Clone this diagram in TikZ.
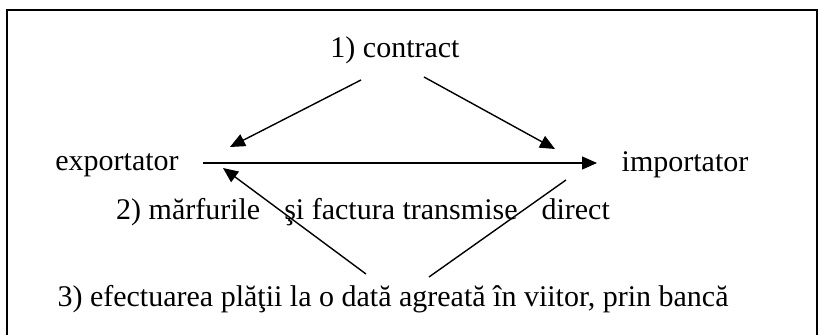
\documentclass[tikz,border=0pt]{standalone}
\usepackage{fontspec}
\setmainfont{Liberation Serif}
\usetikzlibrary{arrows.meta}
\begin{document}
\begin{tikzpicture}[x=0.5pt,y=-0.5pt,
  lbl/.style={inner sep=0pt,font=\fontsize{15}{18}\selectfont},
  conn/.style={line width=0.7pt},
  arr/.style={conn,-{Triangle[length=7.5pt,width=6.5pt]}},
  frame/.style={line width=1.1pt}]
\useasboundingbox (0,0) rectangle (826,335);
\draw[frame] (7,345) -- (7,10) -- (817,10) -- (817,345);
\node[lbl] (contract) at (395,50) {1) contract};
\node[lbl] (exp) at (117,165) {exportator};
\node[lbl] (imp) at (685,165) {importator};
\node[lbl] (goods) at (363,212) {2) mărfurile\hspace{0.8em}şi factura transmise\hspace{0.8em}direct};
\node[lbl] (pay) at (393,299) {3) efectuarea plăţii la o dată agreată în viitor, prin bancă};
\coordinate (cL) at (361,80);
\coordinate (cR) at (424,77);
\coordinate (eT) at (230,147);
\coordinate (iT) at (555,149);
\coordinate (eR) at (203,163);
\coordinate (iL) at (597,163);
\coordinate (pL) at (366,274);
\coordinate (pR) at (429,277);
\coordinate (eB) at (223,168);
\coordinate (iB) at (566,180);
\draw[arr] (cL) -- (eT);
\draw[arr] (cR) -- (iT);
\draw[arr] (eR) -- (iL);
\draw[arr] (pL) -- (eB);
\draw[conn] (pR) -- (iB);
\end{tikzpicture}
\end{document}
